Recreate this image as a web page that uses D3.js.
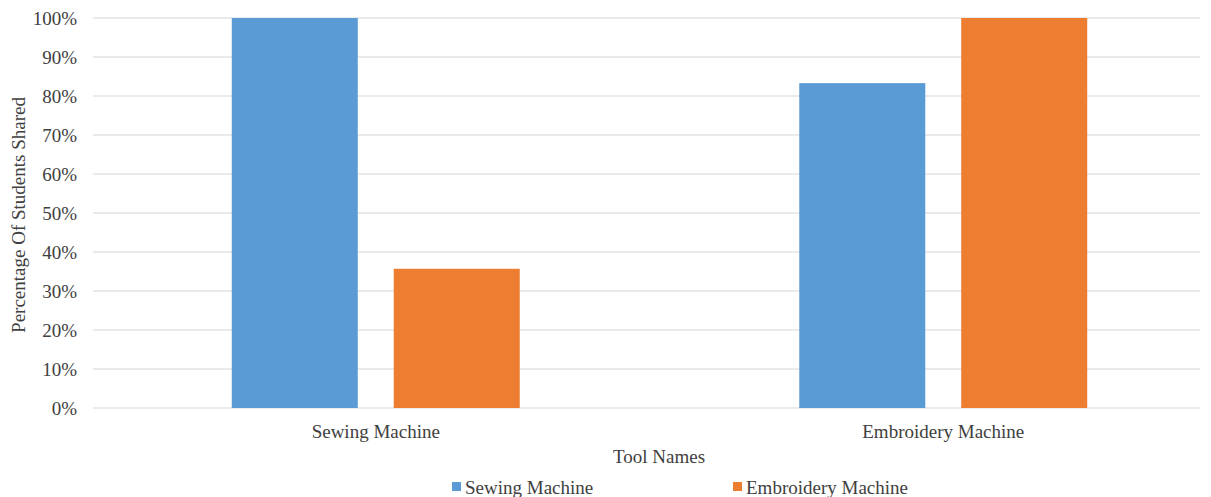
<!DOCTYPE html>
<html>
<head>
<meta charset="utf-8">
<script src="https://cdn.jsdelivr.net/npm/d3@7"></script>
<style>
  html, body { margin: 0; padding: 0; background: #fff; }
  svg text { font-family: "Liberation Serif", "Times New Roman", "DejaVu Serif", serif !important; }
</style>
</head>
<body>
<svg id="chart" width="1211" height="497"></svg>
<script>
// Categories, series and tick labels
const categories = ["Sewing Machine", "Embroidery Machine"];
const seriesNames = ["Sewing Machine", "Embroidery Machine"];
const sewingValues = [100, 83.3];
const embroideryValues = [35.7, 100];
const yTicks = [0, 10, 20, 30, 40, 50, 60, 70, 80, 90, 100];
const colors = ["#5b9bd5", "#ed7d31"];
const textColor = "#404040";
const fontSize = 19;

const svg = d3.select("#chart");
const plot = { left: 93, right: 1200, top: 18, bottom: 408 };

const y = d3.scaleLinear().domain([0, 100]).range([plot.bottom, plot.top]);
const x = d3.scaleBand().domain(categories).range([92, 1227]).paddingInner(0).paddingOuter(0);
const xs = d3.scaleBand().domain(seriesNames).range([0, x.bandwidth()])
  .paddingInner(0.222).paddingOuter(0.863);

// Gridlines
svg.append("g").selectAll("line").data(yTicks).join("line")
  .attr("x1", plot.left).attr("x2", plot.right)
  .attr("y1", d => y(d)).attr("y2", d => y(d))
  .attr("stroke", "#e3e3e3").attr("stroke-width", 1.3);

// Y axis labels
const yAxis = d3.axisLeft(y).tickValues(yTicks).tickFormat(d => d + "%").tickSize(0).tickPadding(16);
const yg = svg.append("g").attr("transform", `translate(${plot.left},0)`).call(yAxis);
yg.select(".domain").remove();
yg.attr("font-size", null).attr("font-family", null);
yg.selectAll("text").attr("font-size", fontSize).attr("fill", textColor).attr("dy", "0.35em");

// Bars
const rows = categories.map((c, i) => ({ cat: c, vals: [sewingValues[i], embroideryValues[i]] }));
const groups = svg.append("g").selectAll("g").data(rows).join("g")
  .attr("transform", d => `translate(${x(d.cat)},0)`);
groups.selectAll("rect").data(d => d.vals.map((v, j) => ({ s: seriesNames[j], v, j })))
  .join("rect")
  .attr("x", d => xs(d.s)).attr("width", xs.bandwidth())
  .attr("y", d => y(d.v)).attr("height", d => y(0) - y(d.v))
  .attr("fill", d => colors[d.j]);

// X axis labels
const xAxis = d3.axisBottom(x).tickSize(0).tickPadding(16.5);
const xg = svg.append("g").attr("transform", `translate(0,${plot.bottom})`).call(xAxis);
xg.select(".domain").remove();
xg.attr("font-size", null).attr("font-family", null);
xg.selectAll("text").attr("font-size", fontSize).attr("fill", textColor);

// Axis titles
svg.append("text").attr("x", 659).attr("y", 463).attr("text-anchor", "middle")
  .attr("font-size", fontSize).attr("fill", textColor).text("Tool Names");
svg.append("text").attr("transform", "translate(25,215) rotate(-90)").attr("text-anchor", "middle")
  .attr("font-size", fontSize).attr("fill", textColor).text("Percentage Of Students Shared");

// Legend
const legendX = [452, 733];
const lg = svg.append("g").selectAll("g").data(seriesNames).join("g")
  .attr("transform", (d, i) => `translate(${legendX[i]},487)`);
lg.append("rect").attr("x", 0).attr("y", -5).attr("width", 9).attr("height", 9)
  .attr("fill", (d, i) => colors[i]);
lg.append("text").attr("x", 13).attr("y", 0).attr("dy", "0.35em")
  .attr("font-size", fontSize).attr("fill", textColor).text(d => d);
</script>
</body>
</html>
